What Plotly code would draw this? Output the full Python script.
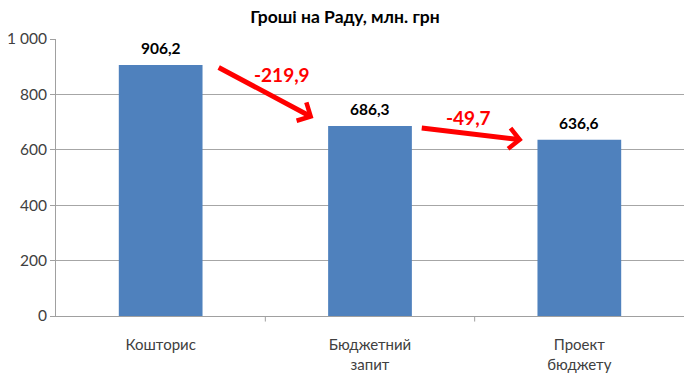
import plotly.graph_objects as go

categories = ["Кошторис", "Бюджетний<br>запит", "Проект<br>бюджету"]
values = [906.2, 686.3, 636.6]
diff_labels = ["-219,9", "-49,7"]
title = "Гроші на Раду, млн. грн"

FONT = "Lato, 'Open Sans', sans-serif"
RED = "#ff0000"

fig = go.Figure()
fig.add_trace(go.Bar(
    x=list(range(len(categories))), y=values,
    marker=dict(color="#4f81bd", line=dict(width=0)),
    width=0.4,
))
for i, v in enumerate(values):
    fig.add_annotation(
        x=i, y=v, xref="x", yref="y", showarrow=False,
        text="<b>" + f"{v:.1f}".replace(".", ",") + "</b>",
        yanchor="bottom", yshift=6,
        font=dict(family=FONT, size=15.5, color="#000000"),
    )

# arrows between bars (in category-index / value coordinates)
arrows = [
    dict(x0=0.27, y0=900, x1=0.73, y1=715, tx=0.58, ty=872, label=diff_labels[0]),
    dict(x0=1.24, y0=679, x1=1.73, y1=635, tx=1.47, ty=718, label=diff_labels[1]),
]
for a in arrows:
    fig.add_annotation(
        x=a["x1"], y=a["y1"], ax=a["x0"], ay=a["y0"],
        xref="x", yref="y", axref="x", ayref="y",
        showarrow=True, arrowhead=4, arrowsize=0.8, arrowwidth=5,
        arrowcolor=RED, text="", standoff=0, startstandoff=0,
    )
    fig.add_annotation(
        x=a["tx"], y=a["ty"], xref="x", yref="y", showarrow=False,
        text="<b>" + a["label"] + "</b>",
        font=dict(family=FONT, size=19, color=RED),
    )

fig.update_layout(
    width=690, height=375,
    margin=dict(l=56, r=6, t=39, b=59),
    paper_bgcolor="white", plot_bgcolor="white",
    separators=", ",
    showlegend=False,
    title=dict(text="<b>" + title + "</b>", x=0.5, xanchor="center",
               y=0.955, yanchor="middle",
               font=dict(family=FONT, size=17.5, color="#000000")),
    font=dict(family=FONT, size=15, color="#404040"),
)
fig.update_xaxes(
    range=[-0.5, 2.5], tickmode="array", tickvals=list(range(len(categories))),
    ticktext=categories, automargin=False,
    showline=True, linecolor="#a0a0a0", linewidth=1,
    ticks="", showgrid=False, zeroline=False, ticklabelstandoff=15,
    tickfont=dict(family=FONT, size=15, color="#404040"),
)
# boundary tick marks between categories
for b in [0.5, 1.5]:
    fig.add_shape(type="line", xref="x", yref="paper", x0=b, x1=b, y0=0, y1=-0.02,
                  line=dict(color="#a0a0a0", width=1))
fig.update_yaxes(
    range=[0, 1000], dtick=200, tickformat=",d", automargin=False,
    showline=True, linecolor="#a0a0a0", linewidth=1,
    ticks="outside", ticklen=5, tickcolor="#a0a0a0",
    showgrid=True, gridcolor="#a6a6a6", gridwidth=1, zeroline=False,
    tickfont=dict(family=FONT, size=15.5, color="#404040"),
)

fig.write_html("out.html")
